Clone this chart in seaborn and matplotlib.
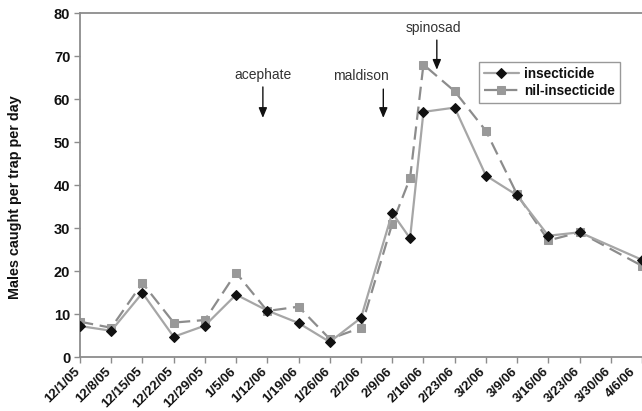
import pandas as pd
import numpy as np
import matplotlib
matplotlib.use('Agg')
import matplotlib.pyplot as plt
import matplotlib.dates as mdates
import matplotlib.transforms as mtransforms
import seaborn as sns

# Dữ liệu
dates = ['2005-12-01', '2005-12-08', '2005-12-15', '2005-12-22', '2005-12-29',
         '2006-01-05', '2006-01-12', '2006-01-19', '2006-01-26', '2006-02-02',
         '2006-02-09', '2006-02-13', '2006-02-16', '2006-02-23', '2006-03-02',
         '2006-03-09', '2006-03-16', '2006-03-23', '2006-04-06']
insecticide = [7.2, 6.1, 14.9, 4.7, 7.3, 14.5, 10.8, 7.9, 3.5, 9.1,
               33.5, 27.6, 57.0, 58.0, 42.2, 37.6, 28.2, 29.0, 22.6]
nil_insecticide = [8.2, 6.8, 17.2, 8.0, 8.6, 19.6, 10.7, 11.7, 4.2, 6.8,
                   31.0, 41.6, 68.0, 61.8, 52.6, 37.8, 27.1, 29.0, 21.2]

tick_dates = pd.date_range('2005-12-01', '2006-04-06', freq='7D')
tick_labels = [f"{d.month}/{d.day}/{d.strftime('%y')}" for d in tick_dates]

# Mũi tên đánh dấu thời điểm phun thuốc
sprays = ['acephate', 'maldison', 'spinosad']
spray_dates = ['2006-01-11', '2006-02-07', '2006-02-19']

df = pd.DataFrame({'date': pd.to_datetime(dates),
                   'insecticide': insecticide,
                   'nil-insecticide': nil_insecticide})

sns.set_style('white')
plt.rcParams['font.family'] = ['Liberation Sans', 'DejaVu Sans']

fig = plt.figure(figsize=(6.42, 4.11), dpi=100)
ax = fig.add_axes([80 / 642, 1 - 357 / 411, 562 / 642, 344 / 411])

sns.lineplot(data=df, x='date', y='insecticide', ax=ax, color='#a6a6a6', lw=1.6,
             marker='D', markersize=4.6, markerfacecolor='#111111', markeredgecolor='#111111',
             label='insecticide', zorder=3)
sns.lineplot(data=df, x='date', y='nil-insecticide', ax=ax, color='#8c8c8c', lw=1.6,
             marker='s', markersize=6.3, markerfacecolor='#999999',
             markeredgecolor='#999999', label='nil-insecticide', zorder=2)
ax.lines[1].set_linestyle((0, (6, 3)))

ax.set_xlim(pd.Timestamp('2005-12-01'), pd.Timestamp('2006-04-06'))
ax.set_ylim(0, 80)
ax.set_yticks(range(0, 81, 10))
ax.set_xticks(tick_dates)
ax.set_xticklabels(tick_labels, rotation=45, ha='right', va='center', rotation_mode='anchor',
                   fontsize=9.5, fontweight='bold', color='#111111')
for t in ax.get_yticklabels():
    t.set_fontweight('bold')
    t.set_fontsize(10.5)
    t.set_color('#111111')

ax.set_xlabel('')
ax.set_ylabel('Males caught per trap per day', fontsize=10.4, fontweight='bold',
              color='#111111')
ax.yaxis.set_label_coords(-0.103, 0.465)

for side in ['left', 'bottom', 'top']:
    ax.spines[side].set_color('#8c8c8c')
    ax.spines[side].set_linewidth(1.3)
ax.spines['right'].set_visible(False)
ax.tick_params(axis='both', which='major', direction='out', length=4, width=1,
               color='#8c8c8c', bottom=True, left=True, pad=3)

# Chú thích thuốc trừ sâu
arrow_top = [62.8, 62.3, 73.7]
arrow_tip = [55.6, 55.6, 66.8]
text_y = [65.6, 65.3, 76.5]
text_dx = [0, -5, -0.7]
for name, d, top, tip, ty, dx in zip(sprays, spray_dates, arrow_top, arrow_tip, text_y, text_dx):
    x = mdates.date2num(pd.Timestamp(d))
    ax.annotate('', xy=(x, tip), xytext=(x, top),
                arrowprops=dict(arrowstyle='-|>,head_length=0.6,head_width=0.25',
                                color='#111111', lw=1, shrinkA=0, shrinkB=0))
    ax.text(x + dx, ty, name, ha='center', va='center', fontsize=10, color='#333333')

leg = ax.legend(loc='upper right', bbox_to_anchor=(0.961, 0.858), fancybox=False,
                framealpha=1, edgecolor='#999999', fontsize=9.8, handlelength=2.6,
                borderpad=0.35, labelspacing=0.25, handletextpad=0.4, borderaxespad=0)
leg.get_frame().set_linewidth(1)
for t in leg.get_texts():
    t.set_fontweight('bold')
    t.set_color('#111111')

# Dịch nhãn trục x sang trái một chút (nhãn cuối dịch nhiều hơn)
fig.canvas.draw()
ticks = ax.xaxis.get_major_ticks()
base = ax.get_xaxis_text1_transform(7)[0]
for i, tk in enumerate(ticks):
    dx = -8 if i == len(ticks) - 1 else -2
    tk.label1.set_transform(base + mtransforms.ScaledTranslation(dx / 100, -3 / 100,
                                                                 fig.dpi_scale_trans))

fig.savefig('out.png', dpi=100)
